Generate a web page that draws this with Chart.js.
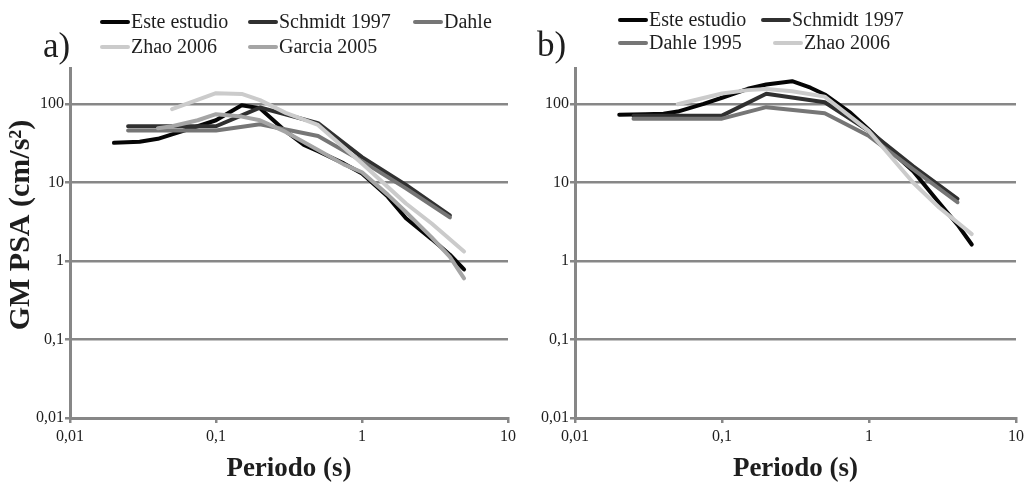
<!DOCTYPE html>
<html>
<head>
<meta charset="utf-8">
<script src="https://cdn.jsdelivr.net/npm/chart.js@4/dist/chart.umd.min.js"></script>
<style>
  html, body { margin: 0; padding: 0; background: #fff; }
  #wrap { position: relative; width: 1026px; height: 485px; overflow: hidden; background: #fff; }
  canvas { position: absolute; top: 0; }
  #chartA { left: 0; z-index: 1; }
  #chartB { left: 513px; z-index: 2; }
</style>
</head>
<body>
<div id="wrap">
  <canvas id="chartA" width="540" height="485"></canvas>
  <canvas id="chartB" width="513" height="485"></canvas>
</div>
<script>
// Axis ticks (log scales)
const periodTicks = [0.01, 0.1, 1, 10];
const psaTicks = [0.01, 0.1, 1, 10, 100];

// Panel a) — periods (s) and GM PSA (cm/s²)
const esteA_T   = [0.02, 0.03, 0.04, 0.05, 0.075, 0.1, 0.15, 0.2, 0.3, 0.4, 0.5, 0.75, 1, 1.5, 2, 3, 4, 5];
const esteA_PSA = [32, 33, 36, 41, 52, 62, 96, 88, 45, 30, 25, 17.5, 13, 6.6, 3.5, 1.9, 1.2, 0.78];
const schmidtA_T   = [0.025, 0.05, 0.1, 0.2, 0.5, 1, 2, 4];
const schmidtA_PSA = [52, 52, 52, 90, 57, 21, 9.3, 3.8];
const dahleA_T   = [0.025, 0.05, 0.1, 0.2, 0.5, 1, 2, 4];
const dahleA_PSA = [46, 46, 46, 55, 39, 18.7, 8.4, 3.6];
const zhaoA_T   = [0.05, 0.1, 0.15, 0.2, 0.3, 0.5, 1, 2, 3, 5];
const zhaoA_PSA = [86, 137, 134, 112, 77, 54, 17.5, 5.4, 3, 1.32];
const garciaA_T   = [0.04, 0.05, 0.075, 0.1, 0.15, 0.2, 0.3, 0.5, 0.75, 1, 1.5, 2, 3, 4, 5];
const garciaA_PSA = [49, 52, 62, 74, 69, 62, 44, 26, 17, 13.5, 7, 4.2, 2.0, 1.13, 0.6];

// Panel b)
const esteB_T   = [0.02, 0.03, 0.04, 0.05, 0.075, 0.1, 0.15, 0.2, 0.3, 0.4, 0.5, 0.75, 1, 1.5, 2, 3, 4, 5];
const esteB_PSA = [73, 74, 75, 80, 100, 120, 156, 177, 195, 161, 132, 77, 47, 22.7, 13.9, 5.5, 2.9, 1.62];
const schmidtB_T   = [0.025, 0.05, 0.1, 0.2, 0.5, 1, 2, 4];
const schmidtB_PSA = [71, 71, 71, 135, 105, 45, 16, 6.2];
const dahleB_T   = [0.025, 0.05, 0.1, 0.2, 0.5, 1, 2, 4];
const dahleB_PSA = [65, 65, 65, 91, 76, 39, 14.7, 5.6];
const zhaoB_T   = [0.05, 0.1, 0.15, 0.2, 0.3, 0.5, 1, 2, 3, 5];
const zhaoB_PSA = [99, 136, 150, 155, 145, 124, 45, 9.9, 4.8, 2.2];

const COLORS = {
  este: '#050505',
  schmidt: '#303030',
  dahle: '#767676',
  zhao: '#cbcbcb',
  garcia: '#a5a5a5'
};
const AXIS_GRAY = '#878787';
const TEXT = '#1e1e1e';
const SERIF = '"Liberation Serif", "Times New Roman", serif';

Chart.defaults.font.family = SERIF;
Chart.defaults.color = TEXT;

const comma = v => String(v).replace('.', ',');

function series(label, T, psa, color, order) {
  return {
    label,
    data: T.map((t, i) => ({ x: t, y: psa[i] })),
    borderColor: color,
    backgroundColor: color,
    borderWidth: 4,
    pointRadius: 0,
    tension: 0,
    borderCapStyle: 'round',
    borderJoinStyle: 'round',
    fill: false,
    order
  };
}

// Legend, panel letter and rotated y title drawn on the canvas
const decorPlugin = {
  id: 'panelDecor',
  afterDraw(chart, args, opts) {
    const ctx = chart.ctx;
    ctx.save();
    ctx.font = '20px ' + SERIF;
    ctx.textBaseline = 'middle';
    ctx.textAlign = 'left';
    chart.data.datasets.forEach((ds, i) => {
      const [x, y] = opts.slots[i];
      ctx.strokeStyle = ds.borderColor;
      ctx.lineWidth = 4;
      ctx.lineCap = 'round';
      ctx.beginPath();
      ctx.moveTo(x + 2, y);
      ctx.lineTo(x + 28, y);
      ctx.stroke();
      ctx.fillStyle = TEXT;
      ctx.fillText(ds.label, x + 31, y + 1);
    });
    ctx.font = '35px ' + SERIF;
    ctx.textBaseline = 'alphabetic';
    ctx.fillStyle = TEXT;
    ctx.fillText(opts.panel, opts.panelPos[0], opts.panelPos[1]);
    if (opts.yTitle) {
      ctx.translate(opts.yTitlePos[0], opts.yTitlePos[1]);
      ctx.rotate(-Math.PI / 2);
      ctx.font = 'bold 30px ' + SERIF;
      ctx.textAlign = 'center';
      ctx.textBaseline = 'middle';
      ctx.fillText(opts.yTitle, 0, 0);
    }
    ctx.restore();
  }
};

function makeChart(canvasId, datasets, cfg) {
  return new Chart(document.getElementById(canvasId), {
    type: 'line',
    data: { datasets },
    plugins: [decorPlugin],
    options: {
      responsive: false,
      animation: false,
      devicePixelRatio: 1,
      layout: { padding: { top: 68, right: cfg.padRight, bottom: 0, left: 0 } },
      plugins: {
        legend: { display: false },
        tooltip: { enabled: false },
        panelDecor: cfg.decor
      },
      scales: {
        x: {
          type: 'logarithmic',
          min: 0.01,
          max: 10,
          afterBuildTicks: s => { s.ticks = periodTicks.map(v => ({ value: v })); },
          afterFit: s => { s.height = 67; s.paddingLeft = 0; s.paddingRight = 0; },
          ticks: {
            callback: v => comma(v),
            font: { size: 16 },
            color: TEXT,
            padding: 4,
            maxRotation: 0,
            autoSkip: false
          },
          grid: {
            drawOnChartArea: false,
            drawTicks: true,
            tickLength: 5,
            color: AXIS_GRAY,
            lineWidth: 2.5
          },
          border: { color: AXIS_GRAY, width: 3 },
          title: {
            display: true,
            text: 'Periodo (s)',
            font: { size: 27, weight: 'bold' },
            color: TEXT,
            padding: { top: 0, bottom: 0 }
          }
        },
        y: {
          type: 'logarithmic',
          min: 0.01,
          max: 287,
          afterBuildTicks: s => { s.ticks = psaTicks.map(v => ({ value: v })); },
          afterFit: s => { s.width = cfg.yWidth; s.paddingTop = 0; s.paddingBottom = 0; },
          ticks: {
            callback: v => comma(v),
            font: { size: 16 },
            color: TEXT,
            padding: 1,
            autoSkip: false
          },
          grid: {
            drawOnChartArea: true,
            drawTicks: true,
            tickLength: 5,
            color: AXIS_GRAY,
            lineWidth: 2.5
          },
          border: { color: AXIS_GRAY, width: 3 }
        }
      }
    }
  });
}

makeChart('chartA', [
  series('Este estudio', esteA_T, esteA_PSA, COLORS.este, 5),
  series('Schmidt 1997', schmidtA_T, schmidtA_PSA, COLORS.schmidt, 4),
  series('Dahle', dahleA_T, dahleA_PSA, COLORS.dahle, 3),
  series('Zhao 2006', zhaoA_T, zhaoA_PSA, COLORS.zhao, 2),
  series('Garcia 2005', garciaA_T, garciaA_PSA, COLORS.garcia, 1)
], {
  padRight: 32,
  yWidth: 70,
  decor: {
    slots: [[100, 22], [248, 22], [413, 22], [100, 47], [248, 47]],
    panel: 'a)',
    panelPos: [43, 57],
    yTitle: 'GM PSA (cm/s²)',
    yTitlePos: [21, 225]
  }
});

makeChart('chartB', [
  series('Este estudio', esteB_T, esteB_PSA, COLORS.este, 4),
  series('Schmidt 1997', schmidtB_T, schmidtB_PSA, COLORS.schmidt, 3),
  series('Dahle 1995', dahleB_T, dahleB_PSA, COLORS.dahle, 2),
  series('Zhao 2006', zhaoB_T, zhaoB_PSA, COLORS.zhao, 1)
], {
  padRight: 10,
  yWidth: 62,
  decor: {
    slots: [[105, 20], [248, 20], [105, 43], [260, 43]],
    panel: 'b)',
    panelPos: [24, 56],
    yTitle: null
  }
});
</script>
</body>
</html>
